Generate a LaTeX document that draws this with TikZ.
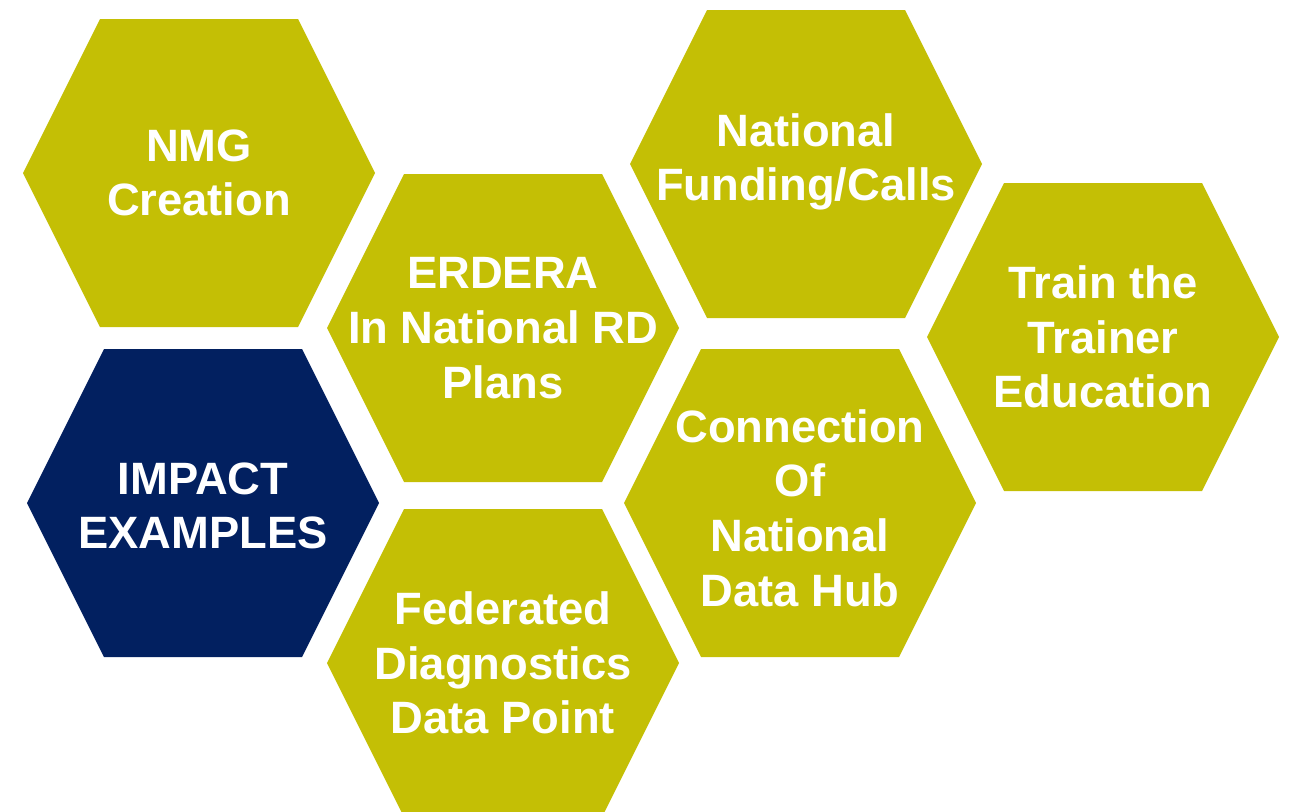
\documentclass[tikz,border=0pt]{standalone}
\usepackage{fontspec}
\setmainfont{Liberation Sans}
\definecolor{olive}{RGB}{196,191,5}
\definecolor{navy}{RGB}{2,32,96}
\tikzset{
  hexcell/.pic={\fill[#1] (-99,-154) -- (99,-154) -- (176,0) -- (99,154) -- (-99,154) -- (-176,0) -- cycle;}
}
\begin{document}
\begin{tikzpicture}[x=0.75pt,y=-0.75pt]

      \clip (0,0) rectangle (1291,811);

      \pic at (199,173)  {hexcell=olive};
      \pic at (203,503)  {hexcell=navy};
      \pic at (503,328)  {hexcell=olive};
      \pic at (503,663)  {hexcell=olive};
      \pic at (806,164)  {hexcell=olive};
      \pic at (800,503)  {hexcell=olive};
      \pic at (1103,337) {hexcell=olive};

      \begin{scope}[every node/.style={text=white,align=center,font=\bfseries\fontsize{34}{41}\selectfont}]
        \node (nmg)    at (199,173)  {NMG\\Creation};
        \node (impact) at (203,506)  {IMPACT\\EXAMPLES};
        \node (erdera) at (503,328)  {ERDERA\\In National RD\\Plans};
        \node (fed)    at (503,663)  {Federated\\Diagnostics\\Data Point};
        \node (fund)   at (806,162)  {National\\Funding/Calls};
        \node (conn)   at (800,508)  {Connection\\Of\\National\\Data Hub};
        \node (train)  at (1103,337) {Train the\\Trainer\\Education};
      \end{scope}

    \end{tikzpicture}
\end{document}
